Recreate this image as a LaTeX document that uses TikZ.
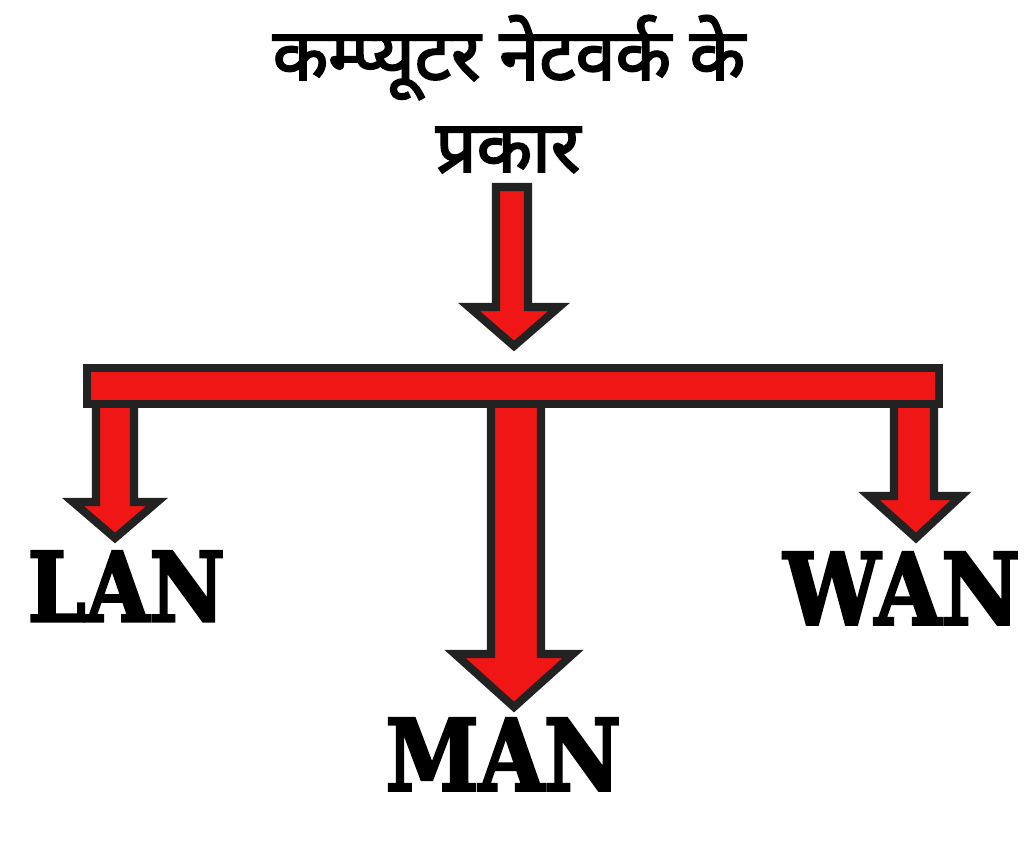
\documentclass[tikz,border=0pt]{standalone}
\usepackage{fontspec}
\newfontfamily\devfont[Script=Devanagari, FakeBold=2.6]{Noto Sans}
\newfontfamily\slabfont[BoldFont={DejaVu Serif Bold}, BoldFeatures={FakeBold=3}]{DejaVu Serif}
\definecolor{arrowred}{RGB}{240,22,22}
\definecolor{edgedark}{RGB}{34,34,34}
\tikzset{
  blockarrow/.style={fill=arrowred, draw=edgedark, line width=2.3pt, line join=miter},
  title/.style={font=\devfont\fontsize{20.5}{24}\selectfont, anchor=base, inner sep=0pt},
  netlabel/.style={anchor=south west, inner sep=0pt}
}
\begin{document}
\begin{tikzpicture}[x=0.01cm, y=-0.01cm]
\useasboundingbox (0,0) rectangle (1024,852);
% title
\node[title] (t1) at (509,80) {कम्प्यूटर नेटवर्क के};
\node[title] (t2) at (508,172) {प्रकार};
% top arrow
\draw[blockarrow] (496,187) -- (528,187) -- (528,307) -- (559,307) -- (514,346) -- (469,307) -- (496,307) -- cycle;
% branch arrows (drawn before bar so the bar's edge covers their tops)
\draw[blockarrow] (96,400) -- (134,400) -- (134,502) -- (157,502) -- (115,538) -- (73,502) -- (96,502) -- cycle;
\draw[blockarrow] (491,400) -- (541,400) -- (541,654) -- (573,654) -- (514,707) -- (455,654) -- (491,654) -- cycle;
\draw[blockarrow] (894,400) -- (934,400) -- (934,496) -- (961,496) -- (916,538) -- (869,496) -- (894,496) -- cycle;
% bar
\draw[blockarrow] (87,368) rectangle (939,404);
% labels
\node[netlabel] (lan) at (27,622) {\resizebox{1.97cm}{0.70cm}{\slabfont\bfseries LAN}};
\node[netlabel] (man) at (385,791) {\resizebox{2.35cm}{0.72cm}{\slabfont\bfseries MAN}};
\node[netlabel] (wan) at (783,625) {\resizebox{2.36cm}{0.72cm}{\slabfont\bfseries WAN}};
\end{tikzpicture}
\end{document}
